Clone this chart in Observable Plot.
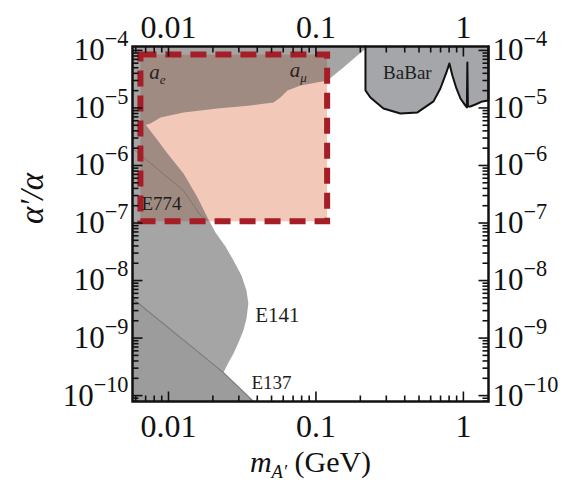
<!DOCTYPE html>
<html>
<head>
<meta charset="utf-8">
<script src="https://cdn.jsdelivr.net/npm/d3@7"></script>
<script src="https://cdn.jsdelivr.net/npm/@observablehq/plot@0.6"></script>
<style>
  body { margin: 0; background: #fff; }
</style>
</head>
<body>
<div id="chart"></div>
<script>
// Plot extents: dark-photon mass (GeV) and coupling ratio alpha'/alpha
const xDomain = [0.0057, 1.48];
const yDomain = [7.9e-11, 1.17e-4];
const xMajorTicks = [0.01, 0.1, 1];
const yMajorTicks = [1e-4, 1e-5, 1e-6, 1e-7, 1e-8, 1e-9, 1e-10];

// Anomalous magnetic moment exclusion (a_e, a_mu): excluded above this curve
const amuMass = [0.0057, 0.00678, 0.00755, 0.00883, 0.01264, 0.0215, 0.036, 0.0515, 0.0574, 0.0641, 0.0785, 0.1197, 0.1535, 0.191, 0.21, 0.234];
const amuCoupling = [6.07e-6, 4.97e-6, 5.37e-6, 6.84e-6, 8.36e-6, 9.8e-6, 1.10e-5, 1.25e-5, 1.52e-5, 2.02e-5, 2.46e-5, 3.01e-5, 5.06e-5, 8.19e-5, 1.0e-4, 1.17e-4];

// Beam-dump exclusion (E774 + E141): excluded left of this contour
const dumpMass = [0.0057, 0.00698, 0.00817, 0.00984, 0.01264, 0.01574, 0.01837, 0.02083, 0.02434, 0.0276, 0.03126, 0.0338, 0.0348, 0.0338, 0.0322, 0.02985, 0.0276, 0.02553, 0.0236, 0.0377];
const dumpCoupling = [6.56e-6, 5.16e-6, 3.07e-6, 1.62e-6, 7.26e-7, 2.77e-7, 1.25e-7, 6.84e-8, 3.9e-8, 2.23e-8, 1.22e-8, 6.7e-9, 3.98e-9, 2.18e-9, 1.35e-9, 8.35e-10, 5.37e-10, 3.75e-10, 2.51e-10, 7.9e-11];

// E137 beam dump: excluded below this line
const e137Mass = [0.0057, 0.0236, 0.0377];
const e137Coupling = [4.86e-9, 2.51e-10, 7.9e-11];

// Thin a_e contour crossing the beam-dump region
const aeMass = [0.0057, 0.01264, 0.0165, 0.0184];
const aeCoupling = [1.98e-6, 3.67e-7, 1.35e-7, 1.1e-7];

// BaBar exclusion: excluded above this curve
const babarMass = [0.2167, 0.2167, 0.234, 0.287, 0.374, 0.488, 0.627, 0.698, 0.767, 0.804, 0.842, 0.897, 0.955, 1.032, 1.056, 1.064, 1.073, 1.115, 1.206, 1.345, 1.478, 1.478];
const babarCoupling = [1.17e-4, 2.02e-5, 1.52e-5, 9.8e-6, 8.02e-6, 8.36e-6, 1.30e-5, 2.18e-5, 4.14e-5, 5.94e-5, 3.67e-5, 2.18e-5, 1.46e-5, 1.10e-5, 1.02e-5, 6.18e-5, 1.06e-5, 1.06e-5, 1.15e-5, 1.30e-5, 1.35e-5, 1.17e-4];

// Proposed search region (dashed box)
const reachMass = [0.0065, 0.12];
const reachCoupling = [1.05e-7, 8.3e-5];

// Region labels
const expNames = ["BaBar", "E141", "E137", "E774"];
const expMass = [0.417, 0.0548, 0.0499, 0.00897];
const expCoupling = [4.14e-5, 2.46e-9, 1.68e-10, 2.18e-7];
const expSize = [19, 21, 19, 19];
const gNames = ["a_{e}", "a_{μ}"];
const gMass = [0.00842, 0.076];
const gCoupling = [4.14e-5, 4.49e-5];

const zipPts = (xs, ys) => xs.map((x, i) => ({x, y: ys[i]}));
const yTop = yDomain[1], yBottom = yDomain[0], xLeft = xDomain[0], xRight = xDomain[1];

// One outline for the a_e/a_mu and beam-dump exclusions together (no overlap)
const amuPts = zipPts(amuMass, amuCoupling);
const dumpPts = zipPts(dumpMass, dumpCoupling);
const lowMassPoly = [
  {x: xLeft, y: yTop},
  ...amuPts.slice(1).reverse(),
  ...dumpPts.slice(1),
  {x: xLeft, y: yBottom}
];
const e137Poly = [...zipPts(e137Mass, e137Coupling), {x: xLeft, y: yBottom}];
const babarPoly = zipPts(babarMass, babarCoupling);
const labels = expNames.map((t, i) => ({t, x: expMass[i], y: expCoupling[i], s: expSize[i]}));
const gLabels = gNames.map((t, i) => ({t, x: gMass[i], y: gCoupling[i]}));

const W = 564, H = 485;
const mT = 46, mB = 84, mL = 132, mR = 76;
const innerW = W - mL - mR, innerH = H - mT - mB;

// Inward tick lengths, converted to log-scale factors at the frame edges
const pxPerDecX = innerW / Math.log10(xRight / xLeft);
const pxPerDecY = innerH / Math.log10(yTop / yBottom);
const fx = (px) => 10 ** (px / pxPerDecX);
const fy = (px) => 10 ** (px / pxPerDecY);
const minorLen = 6, majorLen = 10;

const xAll = d3.scaleLog().domain(xDomain).ticks(30);
const yAll = d3.scaleLog().domain(yDomain).ticks(30);
const xMinor = xAll.filter(v => !xMajorTicks.some(m => Math.abs(m - v) / m < 1e-6));
const yMinor = yAll.filter(v => !yMajorTicks.some(m => Math.abs(m - v) / m < 1e-6));

const fmtX = d => String(d);
const fmtY = d => `10^{−${Math.round(-Math.log10(d))}}`;
const ink = "#111";
const serif = "'Liberation Serif', 'DejaVu Serif', serif";
const tickStyle = {stroke: ink, strokeWidth: 1.6};

function edgeTicks(values, len) {
  return [
    Plot.link(values, {x1: d => d, x2: d => d, y1: () => yBottom, y2: () => yBottom * fy(len), ...tickStyle}),
    Plot.link(values, {x1: d => d, x2: d => d, y1: () => yTop, y2: () => yTop / fy(len), ...tickStyle})
  ];
}
function sideTicks(values, len) {
  return [
    Plot.link(values, {y1: d => d, y2: d => d, x1: () => xLeft, x2: () => xLeft * fx(len), ...tickStyle}),
    Plot.link(values, {y1: d => d, y2: d => d, x1: () => xRight, x2: () => xRight / fx(len), ...tickStyle})
  ];
}

const rectBox = {x1: () => reachMass[0], x2: () => reachMass[1], y1: () => reachCoupling[0], y2: () => reachCoupling[1]};

const chart = Plot.plot({
  width: W, height: H,
  marginTop: mT, marginBottom: mB, marginLeft: mL, marginRight: mR,
  style: {fontFamily: serif, background: "#fff", color: ink},
  x: {type: "log", domain: xDomain, label: null},
  y: {type: "log", domain: yDomain, label: null},
  marks: [
    // proposed search region fill
    Plot.rect([0], {...rectBox, fill: "#f2c9b8"}),
    // translucent gray exclusions (brownish where they cross the search region)
    Plot.line(lowMassPoly, {x: "x", y: "y", fill: "#505050", fillOpacity: 0.514, stroke: "none"}),
    Plot.line(e137Poly, {x: "x", y: "y", fill: "#000", fillOpacity: 0.05, stroke: "none"}),
    Plot.line(zipPts(e137Mass, e137Coupling), {x: "x", y: "y", stroke: "#7d7d7d", strokeWidth: 1.2}),
    Plot.line(zipPts(aeMass, aeCoupling), {x: "x", y: "y", stroke: "#6f6260", strokeWidth: 1, strokeOpacity: 0.6}),
    Plot.line(babarPoly, {x: "x", y: "y", fill: "#a4a6a9", stroke: "#111", strokeWidth: 2}),
    // dashed outline of the search region
    Plot.rect([0], {...rectBox, fill: "none", stroke: "#a51d26", strokeWidth: 6, strokeDasharray: "16,9"}),
    // inward ticks on all four sides
    ...edgeTicks(xMinor, minorLen),
    ...edgeTicks(xMajorTicks, majorLen),
    ...sideTicks(yMinor, minorLen),
    ...sideTicks(yMajorTicks, majorLen),
    // region labels
    Plot.text(labels, {x: "x", y: "y", text: "t", fontSize: "s", fill: "#1e1e1e"}),
    Plot.text(gLabels, {x: "x", y: "y", text: "t", fontSize: 21, fontStyle: "italic", fill: "#2a2220"}),
    Plot.frame({stroke: ink, strokeWidth: 2.5}),
    // tick labels
    Plot.axisX(xMajorTicks, {anchor: "bottom", tickSize: 0, tickPadding: 13, tickFormat: fmtX, fontSize: 32, label: null}),
    Plot.axisX(xMajorTicks, {anchor: "top", tickSize: 0, tickPadding: 9, tickFormat: fmtX, fontSize: 32, label: null}),
    Plot.axisY(yMajorTicks, {anchor: "left", tickSize: 0, tickPadding: 4, tickFormat: fmtY, fontSize: 31, label: null}),
    Plot.axisY(yMajorTicks, {anchor: "right", tickSize: 0, tickPadding: 4, tickFormat: fmtY, fontSize: 31, label: null}),
    // axis titles
    Plot.text(["*m*_{A′} (GeV)"], {frameAnchor: "bottom", dy: 70, text: d => d, fontSize: 30}),
    Plot.text(["α′/α"], {frameAnchor: "left", dx: -100, rotate: -90, text: d => d, fontSize: 33, fontStyle: "italic"})
  ]
});

document.getElementById("chart").appendChild(chart);

// Turn ^{..}, _{..} and *..* markup into superscript, subscript and italic tspans
const SVGNS = "http://www.w3.org/2000/svg";
function richText(el) {
  const src = el.textContent;
  const base = parseFloat(getComputedStyle(el).fontSize) || 16;
  el.textContent = "";
  let shift = 0;
  for (const part of src.split(/(\^\{[^}]*\}|_\{[^}]*\}|\*[^*]*\*)/g)) {
    if (!part) continue;
    const t = document.createElementNS(SVGNS, "tspan");
    let dy = 0;
    if (part.startsWith("^{")) {
      t.textContent = part.slice(2, -1);
      t.setAttribute("font-size", (base * 0.72).toFixed(1));
      dy = -base * 0.45;
    } else if (part.startsWith("_{")) {
      t.textContent = part.slice(2, -1);
      t.setAttribute("font-size", (base * 0.62).toFixed(1));
      t.setAttribute("font-style", "italic");
      dy = base * 0.22;
    } else if (part.startsWith("*")) {
      t.textContent = part.slice(1, -1);
      t.setAttribute("font-style", "italic");
    } else {
      t.textContent = part;
    }
    const d = dy - shift;
    if (d) t.setAttribute("dy", d.toFixed(1));
    shift = dy;
    el.appendChild(t);
  }
}
for (const el of chart.querySelectorAll("text")) {
  if (/\^\{|_\{|\*/.test(el.textContent)) richText(el);
}
</script>
</body>
</html>
